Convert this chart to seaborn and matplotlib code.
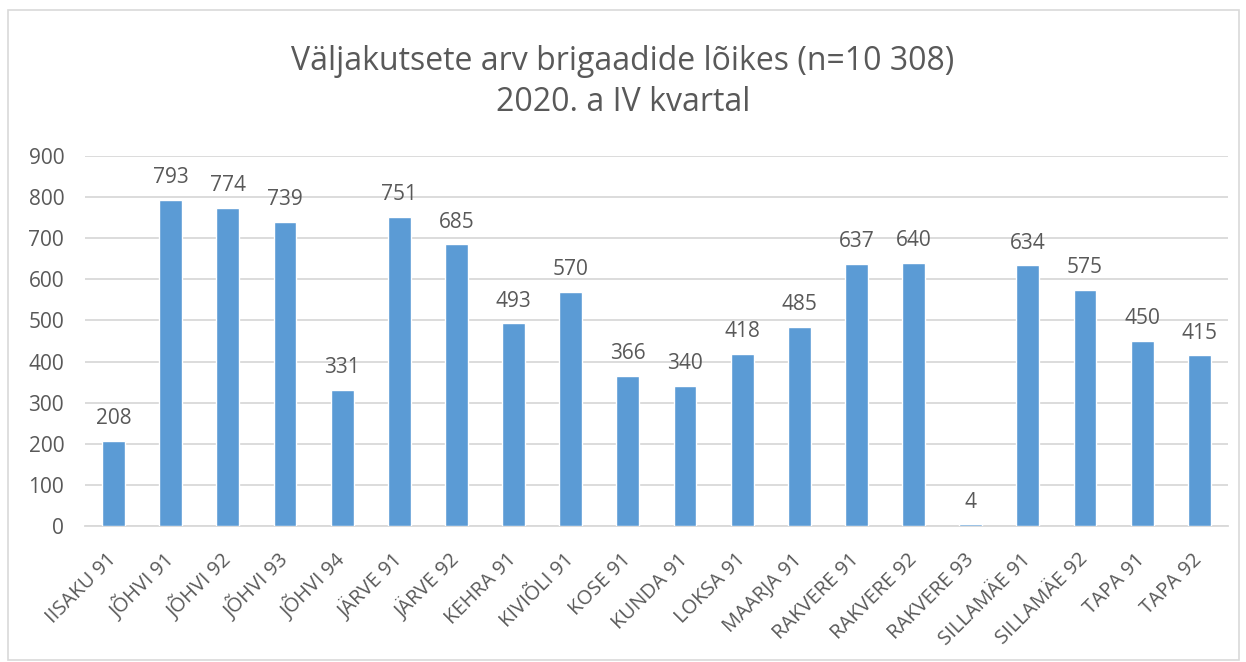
import pandas as pd
import seaborn as sns
import matplotlib.pyplot as plt
from matplotlib.patches import Rectangle

# data
brigaadid = ['IISAKU 91', 'JÕHVI 91', 'JÕHVI 92', 'JÕHVI 93', 'JÕHVI 94',
             'JÄRVE 91', 'JÄRVE 92', 'KEHRA 91', 'KIVIÕLI 91', 'KOSE 91',
             'KUNDA 91', 'LOKSA 91', 'MAARJA 91', 'RAKVERE 91', 'RAKVERE 92',
             'RAKVERE 93', 'SILLAMÄE 91', 'SILLAMÄE 92', 'TAPA 91', 'TAPA 92']
valjakutsed = [208, 793, 774, 739, 331, 751, 685, 493, 570, 366,
               340, 418, 485, 637, 640, 4, 634, 575, 450, 415]
y_ticks = [0, 100, 200, 300, 400, 500, 600, 700, 800, 900]

df = pd.DataFrame({'brigaad': brigaadid, 'arv': valjakutsed})

sns.set_style('white')
plt.rcParams['font.family'] = ['Open Sans', 'DejaVu Sans']
txt = '#595959'

fig = plt.figure(figsize=(12.46, 6.62), dpi=100)
ax = fig.add_axes([0.0682, 0.2054, 0.9173, 0.559])

sns.barplot(data=df, x='brigaad', y='arv', color='#5B9BD5', width=0.4,
            saturation=1, ax=ax, zorder=3)

ax.set_ylim(0, 900)
ax.set_xlim(-0.5, len(brigaadid) - 0.5)
ax.set_yticks(y_ticks)
ax.set_yticklabels([str(v) for v in y_ticks], fontsize=15, color=txt)
ax.yaxis.grid(True, color='#D9D9D9', linewidth=1.3, zorder=0)
ax.tick_params(axis='y', length=0, pad=15)
ax.set_xticks(range(len(brigaadid)))
ax.set_xticklabels(brigaadid, rotation=45, ha='right', va='center',
                   rotation_mode='anchor', fontsize=14.5, color=txt)
ax.tick_params(axis='x', length=0, pad=22)
ax.set_xlabel('')
ax.set_ylabel('')
for s in ['top', 'right', 'left']:
    ax.spines[s].set_visible(False)
ax.spines['bottom'].set_color('#D9D9D9')
ax.spines['bottom'].set_linewidth(1.3)

for i, v in enumerate(valjakutsed):
    ax.annotate(str(v), (i, v), xytext=(0, 8.5), textcoords='offset points',
                ha='center', va='bottom', fontsize=15, color=txt)

fig.text(0.5, 0.876, 'Väljakutsete arv brigaadide lõikes (n=10 308)\n2020. a IV kvartal',
         ha='center', va='center', fontsize=23, color=txt, linespacing=1.3)

# chart frame
fig.patches.append(Rectangle((8 / 1246, 0.003), 1231 / 1246, 1 - 10 / 662 - 0.003,
                             transform=fig.transFigure, fill=False,
                             edgecolor='#D9D9D9', linewidth=1.2))

plt.savefig('out.png', dpi=100)
